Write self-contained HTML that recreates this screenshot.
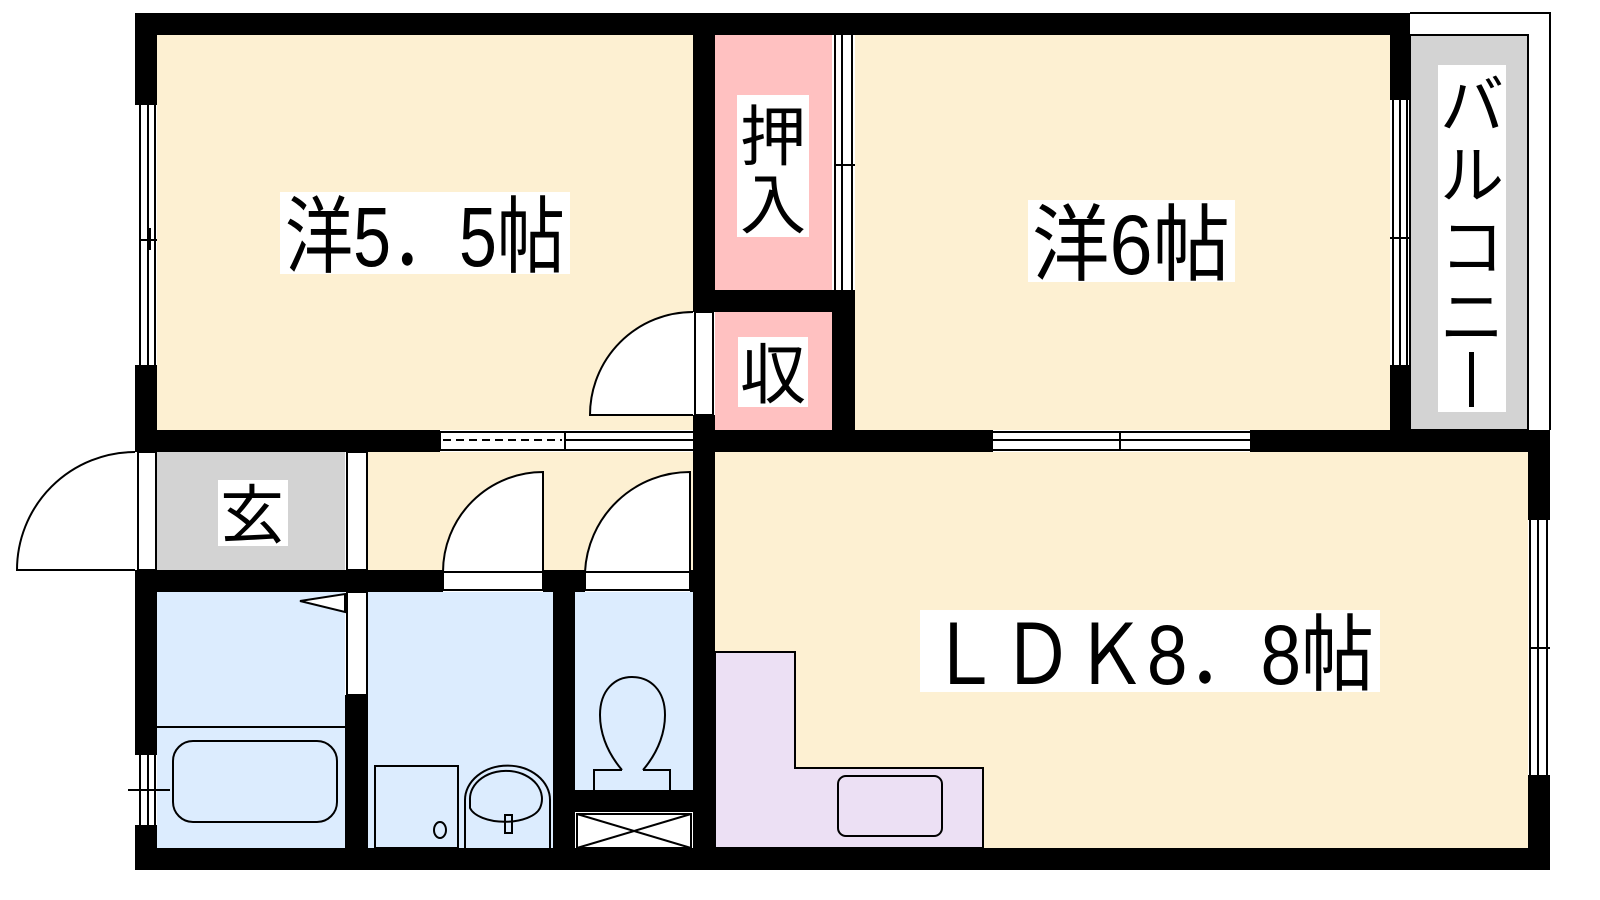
<!DOCTYPE html>
<html><head><meta charset="utf-8"><style>
html,body{margin:0;padding:0;background:#fff;width:1600px;height:900px;overflow:hidden}
svg{display:block}
text{font-family:"Liberation Sans","Noto Sans CJK JP",sans-serif;fill:#000}
</style></head><body>
<svg width="1600" height="900" viewBox="0 0 1600 900" xmlns="http://www.w3.org/2000/svg">
<rect x="157" y="35" width="536" height="395" fill="#fdf0d2"/>
<rect x="715" y="35" width="117" height="255" fill="#ffc1c1"/>
<rect x="715" y="312" width="117" height="118" fill="#ffc1c1"/>
<rect x="855" y="35" width="535" height="395" fill="#fdf0d2"/>
<rect x="1410" y="35" width="118" height="395" fill="#d3d3d3"/>
<rect x="157" y="452" width="188" height="118" fill="#d3d3d3"/>
<rect x="368" y="452" width="325" height="118" fill="#fdf0d2"/>
<rect x="157" y="592" width="188" height="256" fill="#dcecfe"/>
<rect x="368" y="592" width="185" height="256" fill="#dcecfe"/>
<rect x="575" y="592" width="118" height="198" fill="#dcecfe"/>
<rect x="715" y="452" width="813" height="396" fill="#fdf0d2"/>
<polygon points="715,652 795,652 795,768 983,768 983,848 715,848" fill="#ece0f4" stroke="#000" stroke-width="2"/>
<rect x="838" y="776" width="104" height="60" rx="8" fill="#ece0f4" stroke="#000" stroke-width="2"/>

<polyline points="1410,13 1550,13 1550,430" fill="none" stroke="#000" stroke-width="2"/>
<rect x="1410" y="35" width="118" height="395" fill="none" stroke="#000" stroke-width="2"/>

<g fill="#000">
<rect x="135" y="13" width="1275" height="22"/>
<rect x="135" y="13" width="22" height="92"/>
<rect x="135" y="365" width="22" height="87"/>
<rect x="135" y="570" width="22" height="185"/>
<rect x="135" y="825" width="22" height="45"/>
<rect x="135" y="848" width="1415" height="22"/>
<rect x="1528" y="430" width="22" height="90"/>
<rect x="1528" y="775" width="22" height="95"/>
<rect x="1390" y="13" width="20" height="87"/>
<rect x="1390" y="365" width="20" height="65"/>
<rect x="135" y="430" width="305" height="22"/>
<rect x="693" y="430" width="300" height="22"/>
<rect x="1250" y="430" width="300" height="22"/>
<rect x="693" y="13" width="22" height="299"/>
<rect x="693" y="415" width="22" height="37"/>
<rect x="693" y="290" width="162" height="22"/>
<rect x="832" y="290" width="23" height="140"/>
<rect x="135" y="570" width="308" height="22"/>
<rect x="543" y="570" width="42" height="22"/>
<rect x="690" y="570" width="25" height="22"/>
<rect x="553" y="570" width="22" height="278"/>
<rect x="693" y="452" width="22" height="396"/>
<rect x="345" y="695" width="23" height="153"/>
<rect x="575" y="790" width="118" height="22"/>
</g>

<g fill="none" stroke="#000" stroke-width="2">
<line x1="140" y1="105" x2="140" y2="365"/><line x1="148" y1="105" x2="148" y2="365"/><line x1="155" y1="105" x2="155" y2="365"/>
<line x1="140" y1="240" x2="157" y2="240"/><line x1="150" y1="228" x2="150" y2="250"/>
<line x1="835" y1="35" x2="835" y2="290"/><line x1="842" y1="35" x2="842" y2="290"/><line x1="852" y1="35" x2="852" y2="290"/>
<line x1="835" y1="165" x2="855" y2="165"/>
<line x1="1393" y1="100" x2="1393" y2="365"/><line x1="1400" y1="100" x2="1400" y2="365"/><line x1="1407" y1="100" x2="1407" y2="365"/>
<line x1="1390" y1="238" x2="1410" y2="238"/>
<rect x="440" y="432" width="125" height="18" />
<line x1="443" y1="440" x2="562" y2="440" stroke-dasharray="8,5"/>
<line x1="565" y1="432" x2="693" y2="432"/><line x1="565" y1="440" x2="693" y2="440"/><line x1="565" y1="450" x2="693" y2="450"/>
<line x1="993" y1="432" x2="1250" y2="432"/><line x1="993" y1="440" x2="1250" y2="440"/><line x1="993" y1="450" x2="1250" y2="450"/>
<line x1="1120" y1="432" x2="1120" y2="450"/>
<line x1="1530" y1="520" x2="1530" y2="775"/><line x1="1538" y1="520" x2="1538" y2="775"/><line x1="1547" y1="520" x2="1547" y2="775"/>
<line x1="1530" y1="648" x2="1550" y2="648"/>
<rect x="695" y="312" width="18" height="103" fill="#fff"/>
<path d="M693,312 A103,103 0 0 0 590,415 L693,415" fill="#fff"/>
<rect x="138" y="452" width="18" height="118" fill="#fff"/>
<path d="M135,452 A118,118 0 0 0 17,570 L135,570" fill="#fff"/>
<rect x="347" y="452" width="20" height="118" fill="#fff"/>
<rect x="347" y="592" width="20" height="103" fill="#fff"/>
<polygon points="345,594 345,612 300,601" fill="#fff"/>
<rect x="443" y="572" width="100" height="18" fill="#fff"/>
<path d="M543,472 A100,100 0 0 0 443,572 L543,572 Z" fill="#fff"/>
<rect x="585" y="572" width="105" height="18" fill="#fff"/>
<path d="M690,472 A105,105 0 0 0 585,572 L690,572 Z" fill="#fff"/>
<line x1="695" y1="452" x2="695" y2="570"/>
<line x1="140" y1="755" x2="140" y2="825"/><line x1="148" y1="755" x2="148" y2="825"/><line x1="155" y1="755" x2="155" y2="825"/>
<line x1="128" y1="790" x2="170" y2="790"/>
<line x1="157" y1="727" x2="345" y2="727"/>
<rect x="173" y="741" width="164" height="81" rx="20"/>
<rect x="375" y="766" width="83" height="82"/>
<ellipse cx="440" cy="830" rx="6" ry="8"/>
<path d="M465,848 L465,800 A42,34 0 0 1 550,800 L550,848"/>
<path d="M470,800 A36,28 0 1 1 540,808 A36,18 0 0 1 470,808 Z"/>
<rect x="505" y="815" width="7" height="18"/>
<path d="M622,770 C605,750 600,730 600,715 C600,690 615,677 632,677 C650,677 665,690 665,715 C665,730 660,750 643,770"/>
<path d="M594,790 L594,770 L622,770 M670,790 L670,770 L643,770"/>
<rect x="577" y="814" width="114" height="34" fill="#fff"/>
<line x1="577" y1="814" x2="691" y2="848"/><line x1="691" y1="814" x2="577" y2="848"/>
</g>

<rect x="280" y="192" width="290" height="82" fill="#fff"/>
<text x="285" y="266" font-size="84" textLength="280" lengthAdjust="spacingAndGlyphs">洋5．5帖</text>
<rect x="1028" y="200" width="207" height="82" fill="#fff"/>
<text x="1032" y="274" font-size="84" textLength="198" lengthAdjust="spacingAndGlyphs">洋6帖</text>
<rect x="920" y="610" width="460" height="82" fill="#fff"/>
<text x="928" y="684" font-size="84" textLength="446" lengthAdjust="spacingAndGlyphs">ＬＤＫ8．8帖</text>
<rect x="737" y="95" width="72" height="142" fill="#fff"/>
<text x="740" y="160" font-size="66">押</text>
<text x="740" y="228" font-size="66">入</text>
<rect x="738" y="337" width="70" height="70" fill="#fff"/>
<text x="740" y="398" font-size="66">収</text>
<rect x="218" y="480" width="70" height="66" fill="#fff"/>
<text x="220" y="538" font-size="64">玄</text>
<rect x="1438" y="65" width="68" height="347" fill="#fff"/>
<text x="1440" y="128" font-size="64">バ</text>
<text x="1440" y="198" font-size="64">ル</text>
<text x="1440" y="270" font-size="64">コ</text>
<text x="1440" y="340" font-size="64">ニ</text>
<rect x="1469" y="352" width="5" height="55" fill="#000"/>
</svg>
</body></html>
